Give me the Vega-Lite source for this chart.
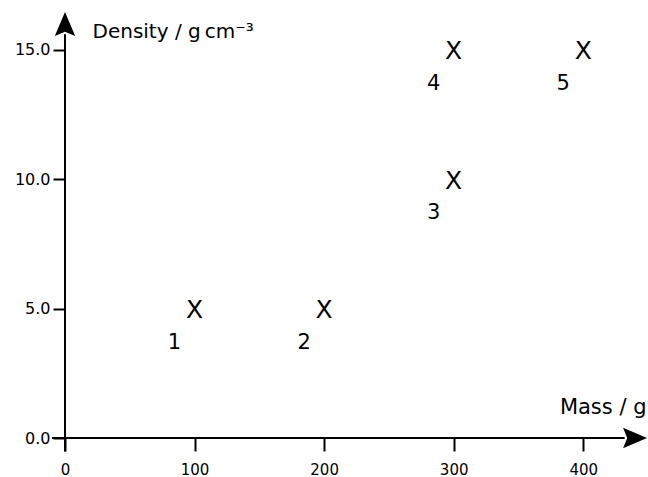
{
  "$schema": "https://vega.github.io/schema/vega-lite/v6.json",
  "width": 583,
  "height": 427,
  "autosize": {"type": "none"},
  "padding": {"left": 65, "top": 11, "right": 0, "bottom": 39},
  "background": "white",
  "config": {
    "view": {"stroke": null},
    "font": "DejaVu Sans",
    "axis": {"grid": false, "domain": false, "labelColor": "black", "titleColor": "black", "tickColor": "black", "titleFontWeight": "normal", "labelFont": "DejaVu Sans", "titleFont": "DejaVu Sans"}
  },
  "datasets": {
    "points": [
      {"mass": 100, "density": 5, "id": "1"},
      {"mass": 200, "density": 5, "id": "2"},
      {"mass": 300, "density": 10, "id": "3"},
      {"mass": 300, "density": 15, "id": "4"},
      {"mass": 400, "density": 15, "id": "5"}
    ],
    "xline": [{"x": -10, "x2": 432, "y": 0}],
    "yline": [{"x": 0, "y": -0.52, "y2": 15.6}],
    "xarrow": [{"x": 440, "y": 0}],
    "yarrow": [{"x": 0, "y": 16.0}]
  },
  "layer": [
    {
      "data": {"name": "points"},
      "mark": {"type": "text", "text": "X", "fontSize": 25, "baseline": "middle", "align": "center", "dy": 1.5, "color": "black"},
      "encoding": {
        "x": {
          "field": "mass", "type": "quantitative",
          "scale": {"domain": [0, 450], "nice": false, "zero": false},
          "axis": {
            "values": [0, 100, 200, 300, 400],
            "tickSize": 13, "tickWidth": 2, "labelPadding": 11, "labelFontSize": 15, "labelFlush": false,
            "title": "Mass / g", "titleFontSize": 21, "titleAlign": "right", "titleBaseline": "alphabetic", "titleX": 581, "titleY": -25, "titleAnchor": null
          }
        },
        "y": {
          "field": "density", "type": "quantitative",
          "scale": {"domain": [0, 16.5], "nice": false, "zero": false},
          "axis": {
            "values": [0, 5, 10, 15], "format": ".1f",
            "tickSize": 12, "tickWidth": 2, "labelPadding": 3, "labelFontSize": 16, "labelDy": -5, "labelBaseline": "middle",
            "title": "Density / g\u2009cm\u207b\u00b3", "titleFontSize": 20, "titleAngle": 0, "titleAlign": "left", "titleBaseline": "alphabetic", "titleX": 27, "titleY": 26
          }
        }
      }
    },
    {
      "data": {"name": "points"},
      "mark": {"type": "text", "fontSize": 21, "baseline": "middle", "align": "center", "dx": -20, "dy": 34, "color": "black"},
      "encoding": {
        "x": {"field": "mass", "type": "quantitative"},
        "y": {"field": "density", "type": "quantitative"},
        "text": {"field": "id"}
      }
    },
    {
      "data": {"name": "xline"},
      "mark": {"type": "rule", "strokeWidth": 2, "color": "black"},
      "encoding": {
        "x": {"field": "x", "type": "quantitative"},
        "x2": {"field": "x2"},
        "y": {"field": "y", "type": "quantitative"}
      }
    },
    {
      "data": {"name": "yline"},
      "mark": {"type": "rule", "strokeWidth": 2, "color": "black"},
      "encoding": {
        "x": {"field": "x", "type": "quantitative"},
        "y": {"field": "y", "type": "quantitative"},
        "y2": {"field": "y2"}
      }
    },
    {
      "data": {"name": "xarrow"},
      "mark": {"type": "point", "shape": "M1,0L-1,-0.85L-0.65,0L-1,0.85Z", "size": 576, "filled": true, "opacity": 1, "color": "black", "strokeWidth": 0},
      "encoding": {
        "x": {"field": "x", "type": "quantitative"},
        "y": {"field": "y", "type": "quantitative"}
      }
    },
    {
      "data": {"name": "yarrow"},
      "mark": {"type": "point", "shape": "M0,-1L0.85,1L0,0.65L-0.85,1Z", "size": 576, "filled": true, "opacity": 1, "color": "black", "strokeWidth": 0},
      "encoding": {
        "x": {"field": "x", "type": "quantitative"},
        "y": {"field": "y", "type": "quantitative"}
      }
    }
  ]
}
